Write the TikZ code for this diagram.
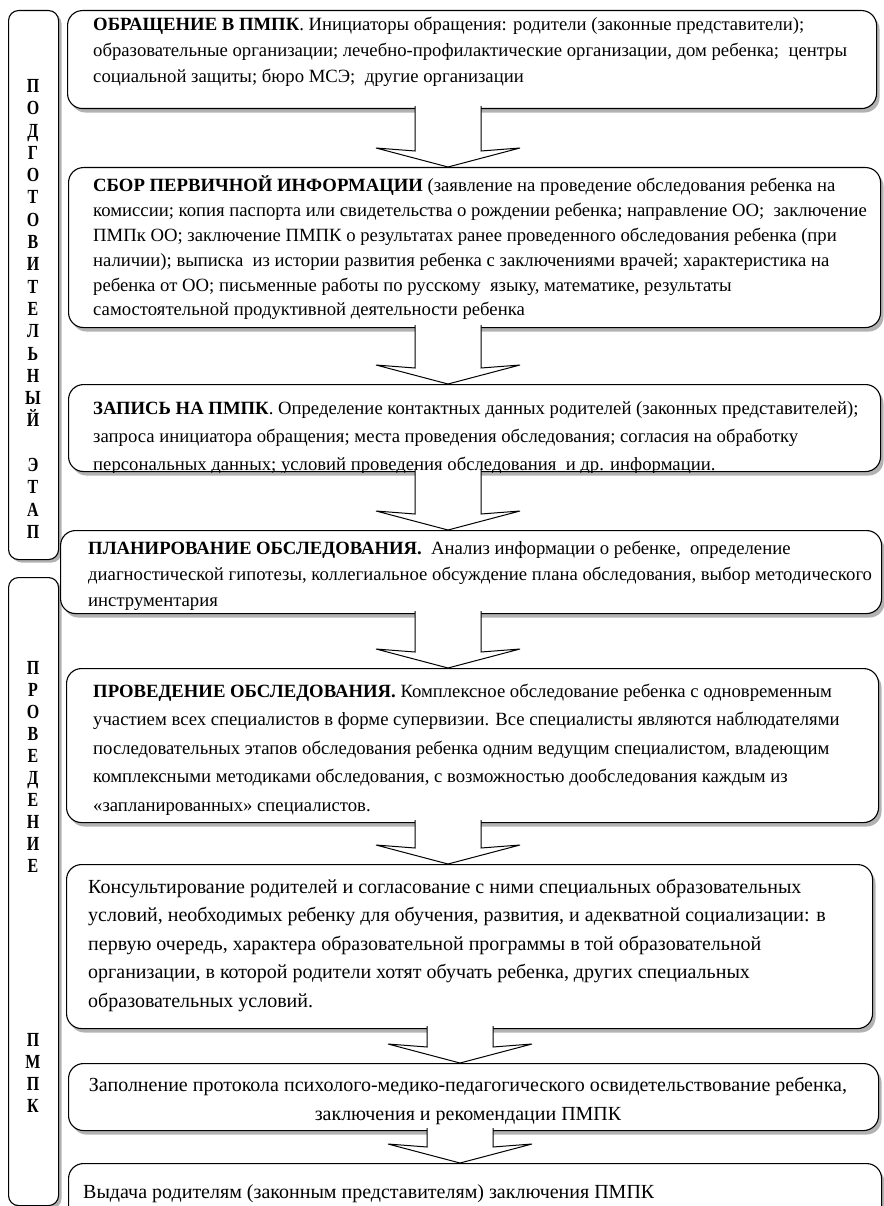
\documentclass[tikz,border=0pt]{standalone}
\usepackage{fontspec}
\setmainfont{Liberation Serif}
\newfontfamily\sidefont{Liberation Serif}[FakeStretch=0.8]
\usetikzlibrary{shadows,calc}
\newcommand\blockarr[3]{%
  \draw[barrow] ($(#3 |- #1.south)+(-33,-3)$) -- ($(#3 |- #2.north)+(-33,-16)$)
    -- ($(#3 |- #2.north)+(-72,-19)$) -- ($(#3 |- #2.north)+(0,0)$)
    -- ($(#3 |- #2.north)+(72,-19)$) -- ($(#3 |- #2.north)+(33,-16)$)
    -- ($(#3 |- #1.south)+(33,-3)$);}
\newcommand\vl[1]{\hbox to 0pt{\hss#1\hss}}
\begin{document}
\begin{tikzpicture}[x=1pt,y=-1pt,
  box/.style={draw=black, line width=1.1pt, rounded corners=15pt, fill=white,
    drop shadow={shadow xshift=3pt, shadow yshift=-4pt, fill=black!60}},
  sidebox/.style={draw=black, line width=1.1pt, rounded corners=10pt, fill=white,
    drop shadow={shadow xshift=3pt, shadow yshift=-3pt, fill=black!60}},
  txt/.style={anchor=base west, inner sep=0pt, font=\fontsize{18.7}{26}\selectfont},
  vlet/.style={anchor=base, inner sep=0pt, font=\sidefont\bfseries\fontsize{20}{22.3}\selectfont},
  barrow/.style={draw=black, line width=1pt, fill=white},
]
\useasboundingbox (0,0) rectangle (883,1206);
\coordinate (xA) at (448,0);
\coordinate (xB) at (460,0);
% sidebars
\node[sidebox, anchor=north west, minimum width=50pt, minimum height=549pt] (s1) at (8,10) {};
\node[sidebox, anchor=north west, minimum width=50pt, minimum height=628pt] (s2) at (8,577) {};
\node[vlet] (w1) at (33,92.5) {\vtop{\vl{П}\vl{О}\vl{Д}\vl{Г}\vl{О}\vl{Т}\vl{О}\vl{В}\vl{И}\vl{Т}\vl{Е}\vl{Л}\vl{Ь}\vl{Н}\vl{Ы}\vl{Й}}};
\node[vlet] (w2) at (33,471.5) {\vtop{\vl{Э}\vl{Т}\vl{А}\vl{П}}};
\node[vlet, font=\sidefont\bfseries\fontsize{20}{22}\selectfont] (w3) at (33,674.5) {\vtop{\vl{П}\vl{Р}\vl{О}\vl{В}\vl{Е}\vl{Д}\vl{Е}\vl{Н}\vl{И}\vl{Е}}};
\node[vlet, font=\sidefont\bfseries\fontsize{20}{22}\selectfont] (w4) at (33,1046.5) {\vtop{\vl{П}\vl{М}\vl{П}\vl{К}}};
% boxes
\node[box, anchor=north west, minimum width=809pt, minimum height=98pt] (b1) at (67,10) {};
\node[box, anchor=north west, minimum width=812pt, minimum height=160pt] (b2) at (68,167) {};
\node[box, anchor=north west, minimum width=812pt, minimum height=87pt] (b3) at (68,384) {};
\node[box, anchor=north west, minimum width=821pt, minimum height=83pt] (b4) at (60,530) {};
\node[box, anchor=north west, minimum width=812pt, minimum height=154pt] (b5) at (66,668) {};
\node[box, anchor=north west, minimum width=806pt, minimum height=164pt] (b6) at (66,864) {};
\node[box, anchor=north west, minimum width=810pt, minimum height=67pt] (b7) at (68,1063) {};
\node[box, anchor=north west, minimum width=813pt, minimum height=60pt] (b8) at (68,1163) {};
% arrows
\blockarr{b1}{b2}{xA}
\blockarr{b2}{b3}{xA}
\blockarr{b3}{b4}{xA}
\blockarr{b4}{b5}{xA}
\blockarr{b5}{b6}{xA}
\blockarr{b6}{b7}{xB}
\blockarr{b7}{b8}{xB}
% texts
\node[txt] (t1) at (93,31) {\vtop{\hbox{\textbf{ОБРАЩЕНИЕ В ПМПК}. Инициаторы обращения: родители (законные представители);}
\hbox{образовательные организации; лечебно-профилактические организации, дом ребенка;\ \ центры}
\hbox{социальной защиты; бюро МСЭ;\ \ другие организации}}};
\node[txt, font=\fontsize{18.7}{24.8}\selectfont] (t2) at (93,192) {\vtop{\hbox{\textbf{СБОР ПЕРВИЧНОЙ ИНФОРМАЦИИ} (заявление на проведение обследования ребенка на}
\hbox{комиссии; копия паспорта или свидетельства о рождении ребенка; направление ОО;\ \ заключение}
\hbox{ПМПк ОО; заключение ПМПК о результатах ранее проведенного обследования ребенка (при}
\hbox{наличии); выписка\ \ из истории развития ребенка с заключениями врачей; характеристика на}
\hbox{ребенка от ОО; письменные работы по русскому\ \ языку, математике, результаты}
\hbox{самостоятельной продуктивной деятельности ребенка}}};
\begin{scope}
\clip (b3.north west) rectangle (b3.south east);
\node[txt, font=\fontsize{18.7}{28}\selectfont] (t3) at (93,414) {\vtop{\hbox{\textbf{ЗАПИСЬ НА ПМПК}. Определение контактных данных родителей (законных представителей);}
\hbox{запроса инициатора обращения; места проведения обследования; согласия на обработку}
\hbox{персональных данных; условий проведения обследования\ \ и др. информации.}}};
\end{scope}
\node[txt] (t4) at (88,554) {\vtop{\hbox{\textbf{ПЛАНИРОВАНИЕ ОБСЛЕДОВАНИЯ.}\ \ Анализ информации о ребенке,\ \ определение}
\hbox{диагностической гипотезы, коллегиальное обсуждение плана обследования, выбор методического}
\hbox{инструментария}}};
\node[txt, font=\fontsize{18.7}{28.5}\selectfont] (t5) at (93,697) {\vtop{\hbox{\textbf{ПРОВЕДЕНИЕ ОБСЛЕДОВАНИЯ.} Комплексное обследование ребенка с одновременным}
\hbox{участием всех специалистов в форме супервизии. Все специалисты являются наблюдателями}
\hbox{последовательных этапов обследования ребенка одним ведущим специалистом, владеющим}
\hbox{комплексными методиками обследования, с возможностью дообследования каждым из}
\hbox{«запланированных» специалистов.}}};
\node[txt, font=\fontsize{20}{28.5}\selectfont] (t6) at (88,893) {\vtop{\hbox{Консультирование родителей и согласование с ними специальных образовательных}
\hbox{условий, необходимых ребенку для обучения, развития, и адекватной социализации: в}
\hbox{первую очередь, характера образовательной программы в той образовательной}
\hbox{организации, в которой родители хотят обучать ребенка, других специальных}
\hbox{образовательных условий.}}};
\node[txt, anchor=base, font=\fontsize{20}{29}\selectfont] (t7) at (468,1091) {\vtop{\vl{Заполнение протокола психолого-медико-педагогического освидетельствование ребенка,}
\vl{заключения и рекомендации ПМПК}}};
\node[txt, font=\fontsize{20}{26}\selectfont] (t8) at (83,1198) {Выдача родителям (законным представителям) заключения ПМПК};
\end{tikzpicture}
\end{document}
